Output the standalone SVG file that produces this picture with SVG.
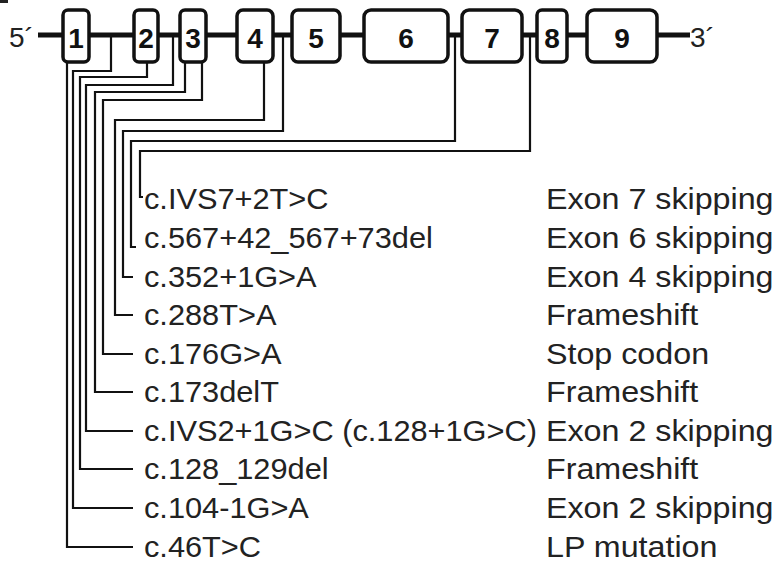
<svg xmlns="http://www.w3.org/2000/svg" width="778" height="566" viewBox="0 0 778 566">
<style>
.bb{stroke:#111;stroke-width:5;fill:none}
.ex rect{fill:#fff;stroke:#111;stroke-width:3.5}
.ex text{font-family:"Liberation Sans",Arial,sans-serif;font-weight:bold;font-size:28px;fill:#111;text-anchor:middle}
.end{font-family:"Liberation Sans",Arial,sans-serif;font-size:28px;fill:#222}
.lab{font-family:"Liberation Sans",Arial,sans-serif;font-size:30px;fill:#222}
.cn path{stroke:#111;stroke-width:2.2;fill:none;stroke-linejoin:miter}
</style>
<rect width="778" height="566" fill="#fff"/>
<rect x="0" y="0" width="8" height="3" fill="#222"/>
<text class="end" x="9" y="47">5´</text>
<text class="end" x="690" y="47">3´</text>
<line class="bb" x1="38" y1="35" x2="690" y2="35"/>
<g id="exon1" class="ex"><rect x="63" y="10" width="26" height="52" rx="5"/><text x="76" y="48">1</text></g>
<g id="exon2" class="ex"><rect x="134" y="10" width="24" height="52" rx="5"/><text x="146" y="48">2</text></g>
<g id="exon3" class="ex"><rect x="180" y="10" width="26" height="52" rx="5"/><text x="193" y="48">3</text></g>
<g id="exon4" class="ex"><rect x="237" y="10" width="36" height="52" rx="6"/><text x="255" y="48">4</text></g>
<g id="exon5" class="ex"><rect x="292" y="10" width="48" height="52" rx="6"/><text x="316" y="48">5</text></g>
<g id="exon6" class="ex"><rect x="364" y="10" width="84" height="52" rx="7"/><text x="406" y="48">6</text></g>
<g id="exon7" class="ex"><rect x="462" y="10" width="60" height="52" rx="7"/><text x="492" y="48">7</text></g>
<g id="exon8" class="ex"><rect x="537" y="10" width="30" height="52" rx="5"/><text x="552" y="48">8</text></g>
<g id="exon9" class="ex"><rect x="587" y="10" width="70" height="52" rx="7"/><text x="622" y="48">9</text></g>
<g id="connectors" class="cn">
<path d="M67,62 V547 H133"/>
<path d="M111,37 V71 H73 V508 H133"/>
<path d="M147,62 V77 H80 V469 H133"/>
<path d="M173,37 V85 H86 V431 H133"/>
<path d="M185,62 V92 H95 V392 H133"/>
<path d="M202,62 V100 H103 V354 H133"/>
<path d="M264,62 V120 H115 V315 H133"/>
<path d="M283,37 V131 H123 V277 H133"/>
<path d="M455,37 V141 H131 V247 H136"/>
<path d="M530,37 V151 H140 V197 H143"/>
</g>
<g id="labels" class="lab">
<g transform="translate(144,0) scale(1.025,1)">
<text x="0" y="209">c.IVS7+2T&gt;C</text>
<text x="0" y="248">c.567+42_567+73del</text>
<text x="0" y="287">c.352+1G&gt;A</text>
<text x="0" y="325">c.288T&gt;A</text>
<text x="0" y="364">c.176G&gt;A</text>
<text x="0" y="402">c.173delT</text>
<text x="0" y="441">c.IVS2+1G&gt;C (c.128+1G&gt;C)</text>
<text x="0" y="479">c.128_129del</text>
<text x="0" y="518">c.104-1G&gt;A</text>
<text x="0" y="557">c.46T&gt;C</text>
</g>
<g transform="translate(546,0) scale(1.075,1)">
<text x="0" y="209">Exon 7 skipping</text>
<text x="0" y="248">Exon 6 skipping</text>
<text x="0" y="287">Exon 4 skipping</text>
<text x="0" y="325">Frameshift</text>
<text x="0" y="364">Stop codon</text>
<text x="0" y="402">Frameshift</text>
<text x="0" y="441">Exon 2 skipping</text>
<text x="0" y="479">Frameshift</text>
<text x="0" y="518">Exon 2 skipping</text>
<text x="0" y="557">LP mutation</text>
</g>
</g>
</svg>
